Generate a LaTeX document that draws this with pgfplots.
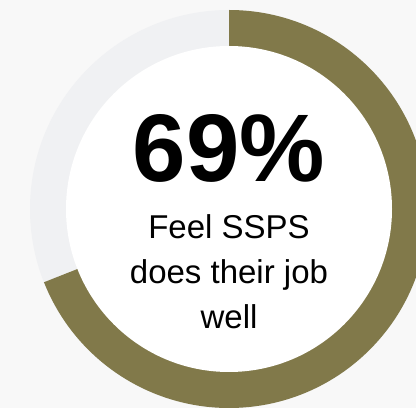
\documentclass[border=0pt]{standalone}
\usepackage{pgfplots}
\pgfplotsset{compat=1.18}
\usepackage{pgfplotstable}
\usepackage{fontspec}
\setmainfont{Liberation Sans}

\definecolor{bgcol}{HTML}{F8F8F8}
\definecolor{ringgray}{HTML}{F0F1F3}
\definecolor{ringolive}{HTML}{81794A}

% share of respondents, in percent
\pgfplotstableread{
label  value
agree  69
other  31
}\donutdata

\begin{document}
\begin{tikzpicture}
\pgfplotstablegetelem{0}{value}\of\donutdata
\let\agree\pgfplotsretval
\pgfmathsetmacro{\endangle}{90-3.6*\agree}
\begin{axis}[
    scale only axis,
    width=416bp, height=408bp,
    xmin=0, xmax=416, ymin=0, ymax=408,
    hide axis,
    clip=true,
]
\fill[bgcol] (axis cs:0,0) rectangle (axis cs:416,408);
% ring: grey remainder, olive share, white hole
\fill[ringgray] (axis cs:229,199) circle[radius=199bp];
\fill[ringolive] (axis cs:229,199) -- ++(90:199bp)
    arc[start angle=90, end angle=\endangle, radius=199bp] -- cycle;
\fill[white] (axis cs:229,199) circle[radius=163bp];
\node[anchor=base, font=\fontsize{96bp}{100bp}\selectfont\bfseries, inner sep=0pt]
    at (axis cs:229,226) {\agree\%};
\node[anchor=base, font=\fontsize{33bp}{40bp}\selectfont, inner sep=0pt]
    at (axis cs:229,169) {Feel SSPS};
\node[anchor=base, font=\fontsize{33bp}{40bp}\selectfont, inner sep=0pt]
    at (axis cs:229,124) {does their job};
\node[anchor=base, font=\fontsize{33bp}{40bp}\selectfont, inner sep=0pt]
    at (axis cs:229,79) {well};
\end{axis}
\end{tikzpicture}
\end{document}
